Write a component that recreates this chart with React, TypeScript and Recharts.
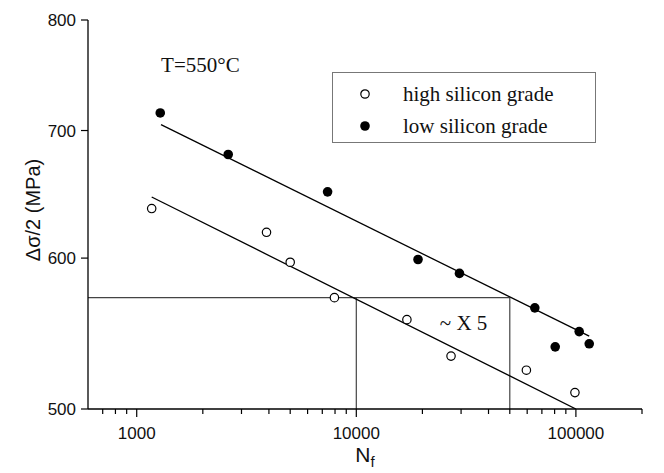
import React from "react";
import {
  ComposedChart,
  XAxis,
  YAxis,
  Line,
  Scatter,
  ReferenceDot,
} from "recharts";

// ---- data ----
const highN = [1170, 3900, 5000, 7950, 17000, 27000, 59500, 99000];
const highS = [637, 619, 597, 572, 557, 533, 524, 510];
const lowN = [1280, 2610, 7400, 19100, 29500, 65000, 80500, 103500, 115000];
const lowS = [715, 680, 650, 599, 589, 565, 539, 549, 541];

const highFitN = [1170, 100000];
const highFitS = [646, 500];
const lowFitN = [1290, 115000];
const lowFitS = [705, 546];

const guideLevel = 572;
const guideN = [600, 10000, 50000];

const xMajorTicks = [1000, 10000, 100000];
const xAllTicks = [
  700, 800, 900, 1000, 2000, 3000, 4000, 5000, 6000, 7000, 8000, 9000, 10000,
  20000, 30000, 40000, 50000, 60000, 70000, 80000, 90000, 100000, 200000,
];
const yTicks = [500, 600, 700, 800];
const xDomain = [600, 200000];
const yDomain = [500, 800];

const seriesNames = ["high silicon grade", "low silicon grade"];
const tempLabel = "T=550°C";
const ratioLabel = "~ X 5";
const yTitle = "Δσ/2 (MPa)";

// ---- derived tables ----
const zip = (ns: number[], ss: number[]) => ns.map((n, i) => ({ n, s: ss[i] }));
const highData = zip(highN, highS);
const lowData = zip(lowN, lowS);
const highFit = zip(highFitN, highFitS);
const lowFit = zip(lowFitN, lowFitS);
const guideH = [
  { n: guideN[0], s: guideLevel },
  { n: guideN[2], s: guideLevel },
];
const guideV1 = [
  { n: guideN[1], s: yDomain[0] },
  { n: guideN[1], s: guideLevel },
];
const guideV2 = [
  { n: guideN[2], s: yDomain[0] },
  { n: guideN[2], s: guideLevel },
];

const SANS = "'Liberation Sans', Arial, sans-serif";
const SERIF = "'Liberation Serif', 'Times New Roman', serif";

const BottomTick = (props: any) => {
  const { x, y, payload } = props;
  const v = payload.value;
  const major = xMajorTicks.includes(v);
  return (
    <g>
      <line x1={x} x2={x} y1={y} y2={y + (major ? 8 : 5)} stroke="#000" strokeWidth={1.2} />
      {major && (
        <text x={x} y={y + 30} textAnchor="middle" fontSize={17} fontFamily={SANS} fill="#111">
          {v}
        </text>
      )}
    </g>
  );
};

const TopTick = (props: any) => {
  const { x, y, payload } = props;
  const v = payload.value;
  const major = xMajorTicks.includes(v);
  return <line x1={x} x2={x} y1={y} y2={y + (major ? 9 : 5)} stroke="#000" strokeWidth={1.2} />;
};

const YTitle = () => (
  <text
    x={25}
    y={202}
    transform="rotate(-90, 25, 202)"
    textAnchor="middle"
    dominantBaseline="central"
    fontSize={20}
    fontFamily={SANS}
    fill="#111"
  >
    {yTitle}
  </text>
);

const XTitle = () => (
  <text x={357} y={454} textAnchor="middle" fontSize={21} fontFamily={SANS} fill="#111">
    <tspan>N</tspan>
    <tspan fontSize={15} dy={5}>
      f
    </tspan>
  </text>
);

const OpenDot = (p: any) => (
  <circle cx={p.cx} cy={p.cy} r={4.2} fill="#fff" stroke="#000" strokeWidth={1.2} />
);
const FilledDot = (p: any) => <circle cx={p.cx} cy={p.cy} r={4.8} fill="#000" stroke="none" />;

export default function App() {
  return (
    <div style={{ position: "relative", width: 656, height: 465 }}>
      <ComposedChart
        width={656}
        height={465}
        margin={{ top: 12, right: 22, left: 20, bottom: 0 }}
      >
        <XAxis
          dataKey="n"
          type="number"
          scale="log"
          domain={xDomain}
          allowDataOverflow
          ticks={xAllTicks}
          interval={0}
          tickSize={0}
          tickMargin={0}
          tickLine={false}
          tick={<BottomTick />}
          axisLine={{ stroke: "#000", strokeWidth: 1.3 }}
          height={64}
          label={{ content: () => <XTitle /> }}
        />
        <XAxis
          xAxisId="top"
          orientation="top"
          dataKey="n"
          type="number"
          scale="log"
          domain={xDomain}
          allowDataOverflow
          ticks={xAllTicks}
          interval={0}
          tickSize={0}
          tickMargin={0}
          tickLine={false}
          tick={<TopTick />}
          axisLine={{ stroke: "#000", strokeWidth: 1.3 }}
          height={0}
        />
        <YAxis
          dataKey="s"
          type="number"
          scale="log"
          domain={yDomain}
          allowDataOverflow
          ticks={yTicks}
          interval={0}
          tickSize={7}
          tickMargin={5}
          tickLine={{ stroke: "#000", strokeWidth: 1.2 }}
          axisLine={{ stroke: "#000", strokeWidth: 1.3 }}
          tick={{ fontSize: 17, fontFamily: SANS, fill: "#111" }}
          width={60}
          label={{ content: () => <YTitle /> }}
        />
        <YAxis
          yAxisId="right"
          orientation="right"
          type="number"
          scale="log"
          domain={yDomain}
          allowDataOverflow
          ticks={yTicks}
          tick={false}
          tickLine={false}
          axisLine={{ stroke: "#000", strokeWidth: 1.3 }}
          width={0}
        />

        <Line data={guideH} dataKey="s" stroke="#444" strokeWidth={1.2} dot={false} isAnimationActive={false} legendType="none" />
        <Line data={guideV1} dataKey="s" stroke="#444" strokeWidth={1.2} dot={false} isAnimationActive={false} legendType="none" />
        <Line data={guideV2} dataKey="s" stroke="#444" strokeWidth={1.2} dot={false} isAnimationActive={false} legendType="none" />
        <Line data={highFit} dataKey="s" stroke="#000" strokeWidth={1.3} dot={false} isAnimationActive={false} legendType="none" />
        <Line data={lowFit} dataKey="s" stroke="#000" strokeWidth={1.3} dot={false} isAnimationActive={false} legendType="none" />

        <Scatter name={seriesNames[0]} data={highData} shape={<OpenDot />} isAnimationActive={false} />
        <Scatter name={seriesNames[1]} data={lowData} shape={<FilledDot />} isAnimationActive={false} />

        <ReferenceDot
          x={1950}
          y={758}
          r={0}
          fill="none"
          stroke="none"
          label={{ value: tempLabel, position: "center", fontSize: 21, fontFamily: SERIF, fill: "#111" }}
        />
        <ReferenceDot
          x={30800}
          y={555}
          r={0}
          fill="none"
          stroke="none"
          label={{ value: ratioLabel, position: "center", fontSize: 21, fontFamily: SERIF, fill: "#111" }}
        />
      </ComposedChart>

      <div
        style={{
          position: "absolute",
          left: 324,
          top: 64,
          width: 264,
          height: 71,
          border: "1px solid #777",
          background: "#fff",
          boxSizing: "border-box",
          fontFamily: SERIF,
          fontSize: 21,
          color: "#111",
        }}
      >
        {seriesNames.map((name, i) => (
          <div
            key={name}
            style={{
              position: "absolute",
              left: 0,
              top: 8 + i * 32,
              height: 26,
              display: "flex",
              alignItems: "center",
              whiteSpace: "nowrap",
            }}
          >
            <svg width={70} height={26} style={{ display: "block" }}>
              {i === 0 ? (
                <circle cx={32} cy={13} r={4.2} fill="#fff" stroke="#000" strokeWidth={1.2} />
              ) : (
                <circle cx={32} cy={13} r={4.8} fill="#000" />
              )}
            </svg>
            <span>{name}</span>
          </div>
        ))}
      </div>
    </div>
  );
}
